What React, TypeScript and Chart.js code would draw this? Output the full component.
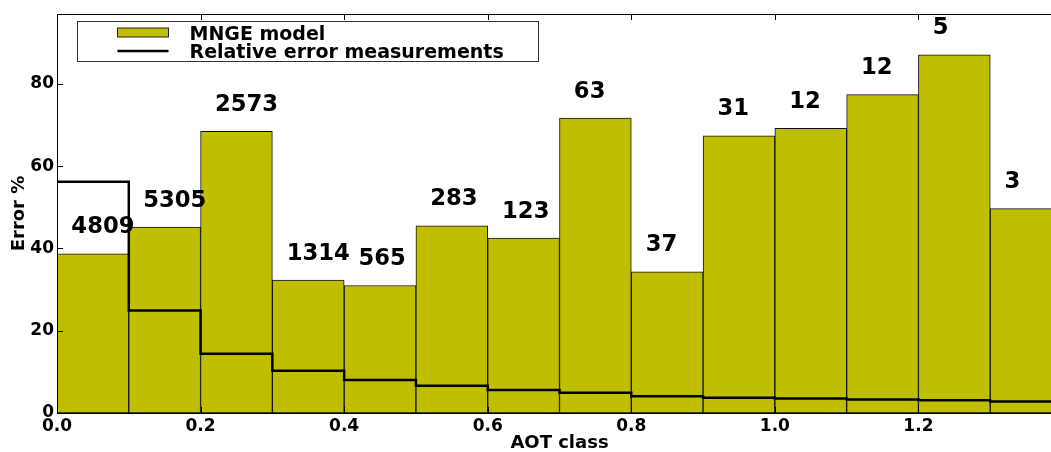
import React, { useEffect, useRef } from 'react';
import { Chart, registerables } from 'chart.js';

Chart.register(...registerables);

// AOT class bins (left edges) and the right edge of the last bin
const binStarts = [0.0, 0.1, 0.2, 0.3, 0.4, 0.5, 0.6, 0.7, 0.8, 0.9, 1.0, 1.1, 1.2, 1.3];
const binEnd = 1.4;
// MNGE model error (%) per bin
const modelError = [38.7, 45.2, 68.5, 32.3, 31.0, 45.5, 42.5, 71.7, 34.3, 67.4, 69.2, 77.4, 87.1, 49.7];
// Relative error of measurements (%) per bin
const measuredError = [56.2, 24.9, 14.4, 10.3, 8.0, 6.6, 5.6, 4.9, 4.1, 3.7, 3.5, 3.3, 3.1, 2.8];
// Number of samples per bin (annotations)
const sampleCounts = [4809, 5305, 2573, 1314, 565, 283, 123, 63, 37, 31, 12, 12, 5, 3];
const xTickLabels = ['0.0', '0.2', '0.4', '0.6', '0.8', '1.0', '1.2'];
const yTickValues = [0, 20, 40, 60, 80];
const legendLabels = ['MNGE model', 'Relative error measurements'];

const OLIVE = '#bfbf00';
const FONT = '"DejaVu Sans", "Liberation Sans", sans-serif';

export default function App() {
  const ref = useRef<HTMLCanvasElement | null>(null);

  useEffect(() => {
    if (!ref.current) return;
    const binW = binStarts[1] - binStarts[0];
    const barData = binStarts.map((s, i) => ({ x: s + binW / 2, y: modelError[i] }));
    const lineData = binStarts.map((s, i) => ({ x: s, y: measuredError[i] }));
    lineData.push({ x: binEnd, y: measuredError[measuredError.length - 1] });

    const overlay = {
      id: 'overlay',
      afterDatasetsDraw(chart: any) {
        const { ctx, chartArea: a, scales } = chart;
        const x = scales.x;
        const y = scales.y;
        ctx.save();
        // count annotations
        ctx.font = `bold 22.7px ${FONT}`;
        ctx.fillStyle = '#000';
        ctx.textAlign = 'left';
        ctx.textBaseline = 'alphabetic';
        sampleCounts.forEach((c, i) => {
          ctx.fillText(String(c), x.getPixelForValue(binStarts[i] + 0.02), y.getPixelForValue(modelError[i] + 5));
        });
        // frame
        ctx.strokeStyle = '#000';
        ctx.lineWidth = 1;
        ctx.strokeRect(Math.round(a.left) + 0.5, Math.round(a.top) + 0.5, a.right - a.left, a.bottom - a.top);
        // inward ticks
        ctx.beginPath();
        x.ticks.forEach((t: any) => {
          const px = Math.round(x.getPixelForValue(t.value)) + 0.5;
          ctx.moveTo(px, a.top);
          ctx.lineTo(px, a.top + 6);
          ctx.moveTo(px, a.bottom);
          ctx.lineTo(px, a.bottom - 6);
        });
        y.ticks.forEach((t: any) => {
          const py = Math.round(y.getPixelForValue(t.value)) + 0.5;
          ctx.moveTo(a.left, py);
          ctx.lineTo(a.left + 6, py);
        });
        ctx.stroke();
        // legend
        const lx = a.left + 20.5;
        const ly = a.top + 7.5;
        ctx.fillStyle = '#fff';
        ctx.fillRect(lx, ly, 461, 40);
        ctx.strokeStyle = '#333';
        ctx.lineWidth = 1;
        ctx.strokeRect(lx, ly, 461, 40);
        ctx.fillStyle = OLIVE;
        ctx.fillRect(lx + 40, ly + 6.5, 51, 9);
        ctx.strokeStyle = '#222';
        ctx.strokeRect(lx + 40, ly + 6.5, 51, 9);
        ctx.beginPath();
        ctx.strokeStyle = '#000';
        ctx.lineWidth = 2.5;
        ctx.moveTo(lx + 40, ly + 29.5);
        ctx.lineTo(lx + 91, ly + 29.5);
        ctx.stroke();
        ctx.fillStyle = '#000';
        ctx.font = `bold 19px ${FONT}`;
        ctx.textBaseline = 'alphabetic';
        ctx.fillText(legendLabels[0], lx + 112, ly + 18);
        ctx.fillText(legendLabels[1], lx + 112, ly + 36);
        ctx.restore();
      },
    };

    const chart = new Chart(ref.current, {
      type: 'bar',
      data: {
        datasets: [
          {
            type: 'line',
            label: legendLabels[1],
            data: lineData,
            borderColor: '#000',
            borderWidth: 2.5,
            stepped: 'before',
            pointRadius: 0,
            fill: false,
            order: 1,
          } as any,
          {
            type: 'bar',
            label: legendLabels[0],
            data: barData,
            backgroundColor: OLIVE,
            borderColor: '#111',
            borderWidth: 1,
            borderSkipped: false,
            categoryPercentage: 1,
            barPercentage: 1,
            order: 2,
          } as any,
        ],
      },
      options: {
        animation: false,
        responsive: false,
        maintainAspectRatio: false,
        layout: { padding: { top: 14, left: 0, right: 0, bottom: 0 } },
        plugins: { legend: { display: false }, tooltip: { enabled: false } },
        scales: {
          x: {
            type: 'linear',
            min: 0,
            max: binEnd,
            offset: false,
            grid: { display: false, drawTicks: false },
            border: { display: false },
            afterFit: (s: any) => { s.height = 39; s.paddingLeft = 0; s.paddingRight = 0; },
            ticks: {
              stepSize: 0.2,
              includeBounds: false,
              padding: 3,
              maxRotation: 0,
              autoSkip: false,
              color: '#000',
              font: { family: FONT, size: 17, weight: 'bold' },
              callback: (v: any) => {
                const lbl = Number(v).toFixed(1);
                return xTickLabels.includes(lbl) ? lbl : '';
              },
            },
            title: {
              display: true,
              text: 'AOT class',
              color: '#000',
              font: { family: FONT, size: 18, weight: 'bold', lineHeight: 1 },
              padding: { top: 0, bottom: 0 },
            },
          },
          y: {
            type: 'linear',
            min: 0,
            max: 97,
            grid: { display: false, drawTicks: false },
            border: { display: false },
            afterFit: (s: any) => { s.width = 57; s.paddingTop = 0; s.paddingBottom = 0; },
            afterBuildTicks: (s: any) => { s.ticks = yTickValues.map((v) => ({ value: v })); },
            ticks: {
              padding: 3,
              color: '#000',
              font: { family: FONT, size: 17, weight: 'bold' },
            },
            title: {
              display: true,
              text: 'Error %',
              color: '#000',
              font: { family: FONT, size: 18, weight: 'bold' },
              padding: { top: 9, bottom: 0 },
            },
          },
        },
      } as any,
      plugins: [overlay],
    });
    return () => chart.destroy();
  }, []);

  return (
    <div style={{ position: 'fixed', left: 0, top: 0, width: 1051, height: 452, overflow: 'hidden', background: '#fff' }}>
      <canvas ref={ref} width={1062} height={452} style={{ width: 1062, height: 452, display: 'block' }} />
    </div>
  );
}
